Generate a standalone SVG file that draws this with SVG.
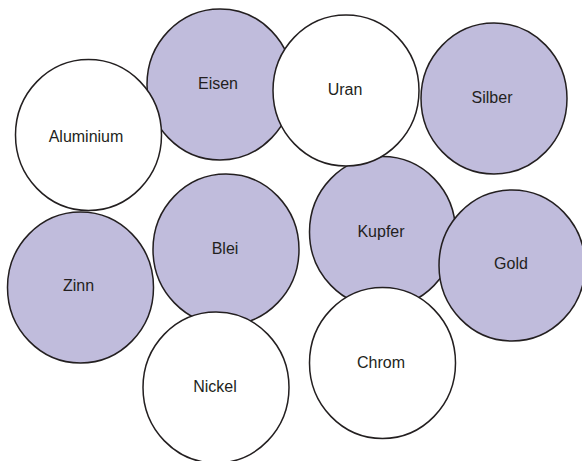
<svg xmlns="http://www.w3.org/2000/svg" width="582" height="461" viewBox="0 0 582 461">
<style>
.c{stroke:#231f20;stroke-width:1.5}
.p{fill:#c0bcdc}
.w{fill:#ffffff}
text{font-family:"Liberation Sans",Arial,sans-serif;font-size:16px;fill:#231f20;text-anchor:middle}
</style>
<rect width="582" height="461" fill="#ffffff"/>
<g id="connectors"/>
<g id="eisen"><ellipse class="c p" cx="220" cy="84.5" rx="73" ry="75.5"/><text x="218" y="89">Eisen</text></g>
<g id="aluminium"><ellipse class="c w" cx="88.5" cy="135" rx="73" ry="75.5"/><text x="86" y="142">Aluminium</text></g>
<g id="kupfer"><ellipse class="c p" cx="382.5" cy="232" rx="73" ry="75.5"/><text x="381" y="237">Kupfer</text></g>
<g id="uran"><ellipse class="c w" cx="346" cy="90.5" rx="73" ry="75.5"/><text x="345" y="95">Uran</text></g>
<g id="silber"><ellipse class="c p" cx="494" cy="98.5" rx="73" ry="75.5"/><text x="492" y="103">Silber</text></g>
<g id="blei"><ellipse class="c p" cx="226" cy="249.5" rx="73" ry="75.5"/><text x="225" y="254">Blei</text></g>
<g id="zinn"><ellipse class="c p" cx="80.5" cy="287.5" rx="73" ry="75.5"/><text x="78.5" y="291">Zinn</text></g>
<g id="gold"><ellipse class="c p" cx="512" cy="265.5" rx="73" ry="75.5"/><text x="511" y="269">Gold</text></g>
<g id="nickel"><ellipse class="c w" cx="216" cy="387.5" rx="73" ry="75.5"/><text x="215" y="392">Nickel</text></g>
<g id="chrom"><ellipse class="c w" cx="382.5" cy="363" rx="73" ry="75.5"/><text x="381" y="368">Chrom</text></g>
</svg>
